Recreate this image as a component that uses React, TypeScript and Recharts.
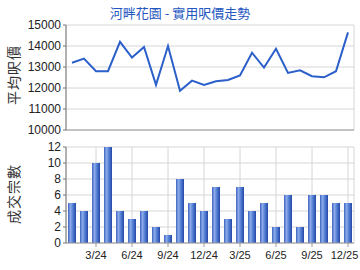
import React from 'react';
import { LineChart, Line, BarChart, Bar, XAxis, YAxis, CartesianGrid } from 'recharts';

const MONTHS = [
  '1/24', '2/24', '3/24', '4/24', '5/24', '6/24', '7/24', '8/24', '9/24', '10/24', '11/24', '12/24',
  '1/25', '2/25', '3/25', '4/25', '5/25', '6/25', '7/25', '8/25', '9/25', '10/25', '11/25', '12/25',
];
const TICK_MONTHS = ['3/24', '6/24', '9/24', '12/24', '3/25', '6/25', '9/25', '12/25'];

const PRICE = [
  13200, 13400, 12800, 12800, 14200, 13450, 13950, 12150, 14000, 11870, 12350, 12150,
  12320, 12380, 12600, 13680, 12970, 13870, 12720, 12840, 12560, 12510, 12800, 14650,
];
const DEALS = [5, 4, 10, 12, 4, 3, 4, 2, 1, 8, 5, 4, 7, 3, 7, 4, 5, 2, 6, 2, 6, 6, 5, 5];

const PRICE_TICKS = [10000, 11000, 12000, 13000, 14000, 15000];
const DEAL_TICKS = [0, 2, 4, 6, 8, 10, 12];

const TITLE = '河畔花園 - 實用呎價走勢';
const PRICE_LABEL = '平均呎價';
const DEALS_LABEL = '成交宗數';

const data = MONTHS.map((m, i) => ({ i, month: m, price: PRICE[i], deals: DEALS[i] }));
const tickIdx = TICK_MONTHS.map((m) => MONTHS.indexOf(m));

const font = 'Arial, "Liberation Sans", sans-serif';
const cjk = '"Noto Sans CJK TC", "Noto Sans", sans-serif';
const gridColor = '#d6d6d6';

// month tick, kept inside the 360px frame at the right edge
const MonthTick = (props: any) => {
  const { x, y, payload } = props;
  const label = MONTHS[payload.value];
  const half = label.length * 2.9;
  const cx = Math.min(x, 359 - half);
  return (
    <text x={cx} y={y + 10} textAnchor="middle" fontSize={11} fill="#222" fontFamily={font}>
      {label}
    </text>
  );
};

const sideLabel = (text: string, cy: number) => (
  <div
    style={{
      position: 'absolute',
      left: 13,
      top: cy,
      transform: 'translate(-50%, -50%) rotate(-90deg)',
      whiteSpace: 'nowrap',
      fontFamily: cjk,
      fontSize: 14,
      color: '#333',
      letterSpacing: 1,
    }}
  >
    {text}
  </div>
);

export default function App() {
  return (
    <div style={{ position: 'absolute', left: 0, top: 0, width: 360, height: 270, background: '#fff' }}>
      <div
        style={{
          position: 'absolute',
          top: 4,
          left: 0,
          width: 360,
          textAlign: 'center',
          fontFamily: cjk,
          fontSize: 13,
          color: '#2456c0',
          lineHeight: '18px',
        }}
      >
        {TITLE}
      </div>
      {sideLabel(PRICE_LABEL, 75)}
      {sideLabel(DEALS_LABEL, 194)}

      <div style={{ position: 'absolute', left: 0, top: 0 }}>
        <LineChart width={360} height={140} data={data} margin={{ top: 25, right: 6, bottom: 0, left: 0 }}>
          <CartesianGrid stroke={gridColor} />
          <XAxis
            dataKey="i"
            type="number"
            domain={[-0.5, 23.5]}
            ticks={tickIdx}
            tick={false}
            height={10}
            stroke="#999"
            tickSize={3}
          />
          <YAxis
            domain={[10000, 15000]}
            ticks={PRICE_TICKS}
            width={66}
            stroke="#777"
            tickSize={3}
            tick={{ fontSize: 12, fill: '#222', fontFamily: font }}
            interval={0}
          />
          <Line dataKey="price" stroke="#2b5fc9" strokeWidth={2} dot={false} isAnimationActive={false} />
        </LineChart>
      </div>

      <div style={{ position: 'absolute', left: 0, top: 135 }}>
        <BarChart width={360} height={135} data={data} margin={{ top: 12, right: 6, bottom: 0, left: 0 }}>
          <defs>
            <linearGradient id="barGrad" x1="0" y1="0" x2="1" y2="0">
              <stop offset="0%" stopColor="#3a62c0" />
              <stop offset="30%" stopColor="#8cabe8" />
              <stop offset="60%" stopColor="#5580d6" />
              <stop offset="100%" stopColor="#2346a6" />
            </linearGradient>
          </defs>
          <CartesianGrid stroke={gridColor} />
          <XAxis
            dataKey="i"
            type="number"
            domain={[-0.5, 23.5]}
            ticks={tickIdx}
            height={27}
            stroke="#999"
            tickSize={4}
            tick={<MonthTick />}
            interval={0}
          />
          <YAxis
            domain={[0, 12]}
            ticks={DEAL_TICKS}
            width={66}
            stroke="#777"
            tickSize={3}
            tick={{ fontSize: 12, fill: '#222', fontFamily: font }}
            interval={0}
          />
          <Bar dataKey="deals" barSize={8} fill="url(#barGrad)" isAnimationActive={false} />
        </BarChart>
      </div>
    </div>
  );
}
